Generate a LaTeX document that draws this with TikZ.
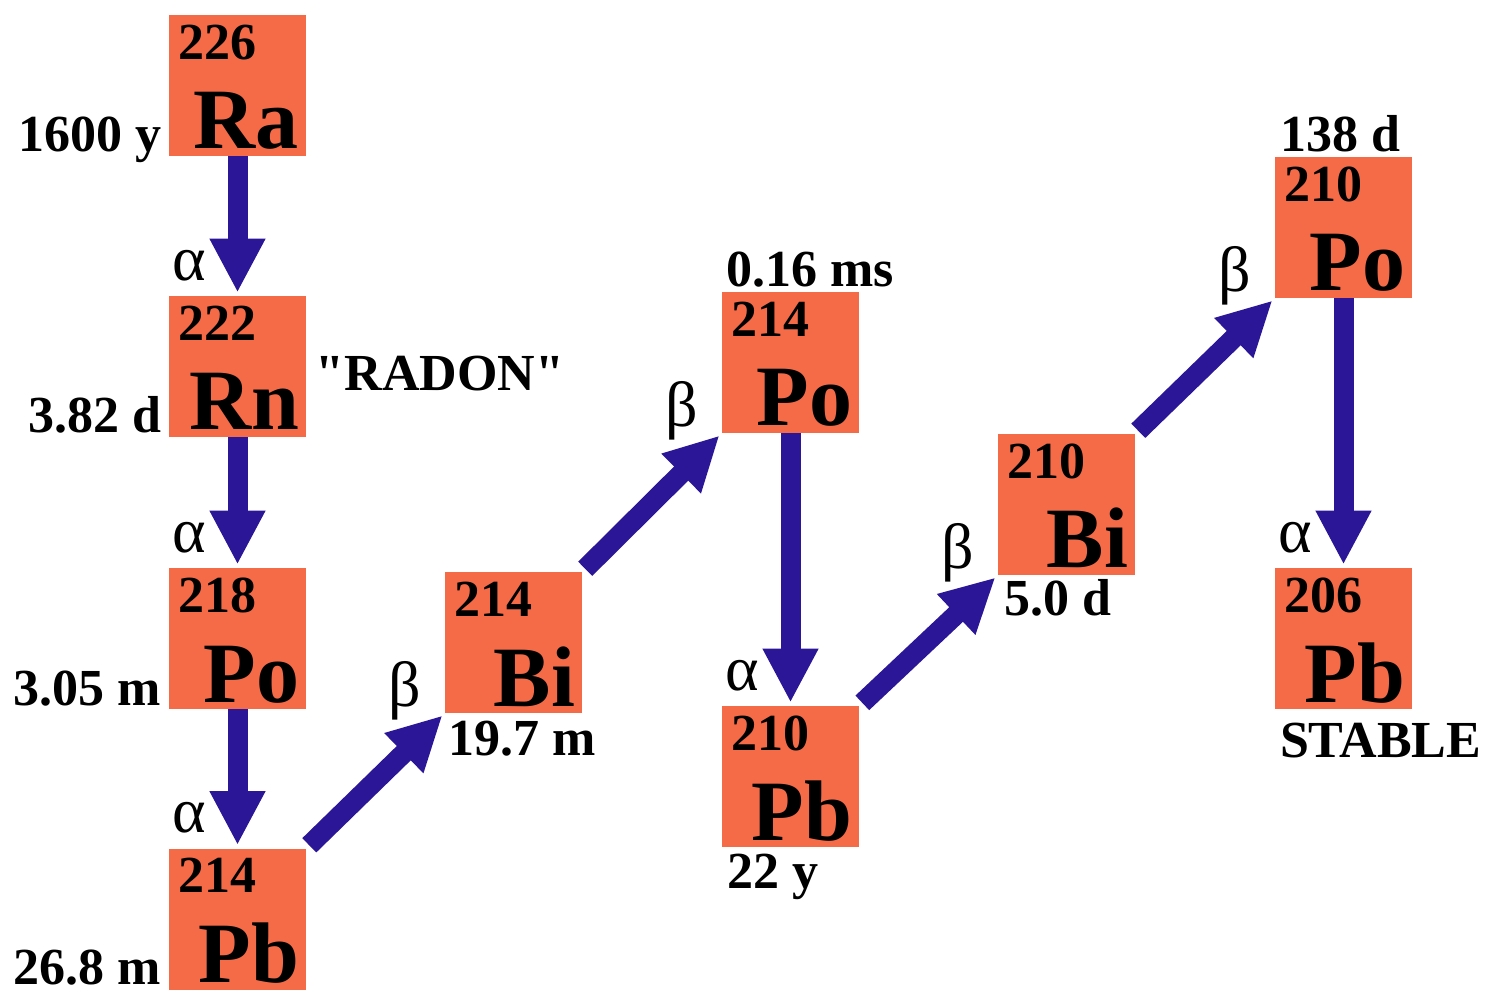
\documentclass[tikz,border=0pt]{standalone}
\usepackage{fontspec}
\setmainfont{Liberation Serif}[Ligatures=TeXOff]
\usetikzlibrary{arrows.meta}
\definecolor{nuclOrange}{RGB}{245,107,71}
\definecolor{decayBlue}{RGB}{42,22,150}

\begin{document}
\begin{tikzpicture}[x=0.5pt, y=-0.5pt]%
  \tikzset{decay arrow/.style={draw, decayBlue, line width=10pt, -{Triangle[length=27pt,width=26pt]}, shorten >=1.5pt}}
  \tikzset{nuclide/.style={rectangle, fill=nuclOrange, inner xsep=3.5pt, inner ysep=0pt, text width=61.5pt, align=right, text height=67pt, text depth=3.5pt, font=\fontsize{43}{43}\selectfont\bfseries}}
  \tikzset{mass/.style={anchor=north west, inner sep=0pt, xshift=4.5pt, yshift=-5pt, font=\fontsize{26}{26}\selectfont\bfseries}}
  \tikzset{halflife/.style={inner sep=0pt, font=\fontsize{26}{26}\selectfont\bfseries}}
  \tikzset{greek/.style={inner sep=0pt, font=\fontsize{32}{32}\selectfont}}

  \useasboundingbox (0,0) rectangle (1499,999);

  % uranium series, radium onwards
  \node[nuclide, label={[mass]north west:226}] at (237.5,85.5) (Ra) {Ra};
  \node[nuclide, label={[mass]north west:222}] at (237.5,366.5) (Rn) {Rn};
  \node[nuclide, label={[mass]north west:218}] at (237.5,638.5) (Po218) {Po};
  \node[nuclide, label={[mass]north west:214}] at (237.5,919) (Pb214) {Pb};
  \node[nuclide, label={[mass]north west:214}] at (513.5,642.5) (Bi214) {Bi};
  \node[nuclide, label={[mass]north west:214}] at (790.5,362.5) (Po214) {Po};
  \node[nuclide, label={[mass]north west:210}] at (790.5,776.5) (Pb210) {Pb};
  \node[nuclide, label={[mass]north west:210}] at (1066.5,504.5) (Bi210) {Bi};
  \node[nuclide, label={[mass]north west:210}] at (1343.5,227.5) (Po210) {Po};
  \node[nuclide, label={[mass]north west:206}] at (1343.5,638.5) (Pb206) {Pb};

  % half lives
  \node[halflife, anchor=base east] (tRa) at ([shift={(-7,-5)}]Ra.south west) {1600 y};
  \node[halflife, anchor=base east] (tRn) at ([shift={(-7,-5)}]Rn.south west) {3.82 d};
  \node[halflife, anchor=base west] (radon) at ([shift={(9,24)}]Rn.east) {"RADON"};
  \node[halflife, anchor=base east] (tPo218) at ([shift={(-7,-4)}]Po218.south west) {3.05 m};
  \node[halflife, anchor=base east] (tPb214) at ([shift={(-7,-5)}]Pb214.south west) {26.8 m};
  \node[halflife, anchor=base west] (tBi214) at ([shift={(3,42)}]Bi214.south west) {19.7 m};
  \node[halflife, anchor=base west] (tPo214) at ([shift={(4,-5)}]Po214.north west) {0.16 ms};
  \node[halflife, anchor=base west] (tPb210) at ([shift={(5,41)}]Pb210.south west) {22 y};
  \node[halflife, anchor=base west] (tBi210) at ([shift={(6,40)}]Bi210.south west) {5.0 d};
  \node[halflife, anchor=base west] (tPo210) at ([shift={(5,-5)}]Po210.north west) {138 d};
  \node[halflife, anchor=base west] (stable) at ([shift={(5,48)}]Pb206.south west) {STABLE};

  % alpha decays
  \draw[decay arrow] (Ra) -- (Rn);
  \draw[decay arrow] (Rn) -- (Po218);
  \draw[decay arrow] (Po218) -- (Pb214);
  \draw[decay arrow] (Po214) -- (Pb210);
  \draw[decay arrow] (Po210) -- (Pb206);
  % beta decays
  \draw[decay arrow, shorten <=2pt] (Pb214.north east) -- (Bi214.south west);
  \draw[decay arrow, shorten <=2pt] (Bi214.north east) -- (Po214.south west);
  \draw[decay arrow, shorten <=2pt] (Pb210.north east) -- (Bi210.south west);
  \draw[decay arrow, shorten <=2pt] (Bi210.north east) -- (Po210.south west);

  \node[greek] (a1) at ([shift={(-48,-30)}]Rn.north) {α};
  \node[greek] (a2) at ([shift={(-48,-30)}]Po218.north) {α};
  \node[greek] (a3) at ([shift={(-48,-30)}]Pb214.north) {α};
  \node[greek] (a4) at ([shift={(-48,-30)}]Pb210.north) {α};
  \node[greek] (a5) at ([shift={(-48,-30)}]Pb206.north) {α};
  \node[greek] (b1) at ([shift={(-40,-23)}]Bi214.south west) {β};
  \node[greek] (b2) at ([shift={(-40,-23)}]Po214.south west) {β};
  \node[greek] (b3) at ([shift={(-40,-23)}]Bi210.south west) {β};
  \node[greek] (b4) at ([shift={(-40,-23)}]Po210.south west) {β};
\end{tikzpicture}
\end{document}
